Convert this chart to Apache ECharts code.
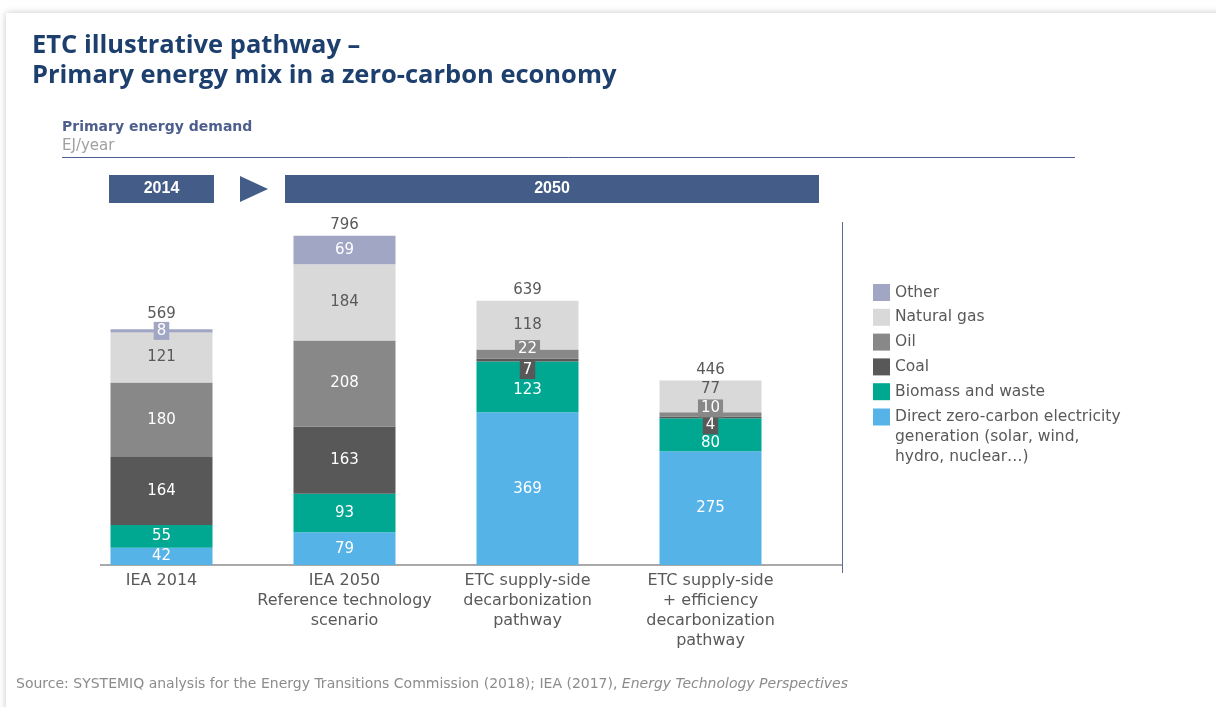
<!DOCTYPE html>
<html>
<head>
<meta charset="utf-8">
<script src="https://cdn.jsdelivr.net/npm/echarts@6/dist/echarts.min.js"></script>
<style>
html,body{margin:0;padding:0;background:#fff;}
#chart{width:1216px;height:707px;}
</style>
</head>
<body>
<div id="chart"></div>
<script>
// ---- data ----
const categories = ['IEA 2014', 'IEA 2050\nReference technology\nscenario', 'ETC supply-side\ndecarbonization\npathway', 'ETC supply-side\n+ efficiency\ndecarbonization\npathway'];
const zeroCarbon = [42, 79, 369, 275];
const biomass = [55, 93, 123, 80];
const coal = [164, 163, 7, 4];
const oil = [180, 208, 22, 10];
const gas = [121, 184, 118, 77];
const other = [8, 69, 0, 0];
const totals = [569, 796, 639, 446];
const periodLabels = ['2014', '2050'];
const seriesNames = ['Other', 'Natural gas', 'Oil', 'Coal', 'Biomass and waste', 'Direct zero-carbon electricity generation (solar, wind, hydro, nuclear…)'];

// ---- styles ----
const FONT = 'DejaVu Sans';
const colors = {
  other: '#A1A6C4', gas: '#D9D9D9', oil: '#888888', coal: '#585858', bio: '#00A892', zc: '#56B3E8'
};
const labelOffsets = {
  zc: [0, 0, 0, 0], bio: [0, 0, 3, 8], coal: [0, 0, 10, 8], oil: [0, 0, -5, -6], gas: [0, 0, 0, -7], other: [0, 0, 0, 0]
};

function mkSeries(name, key, data, textColor) {
  return {
    name: name,
    type: 'bar',
    stack: 'total',
    barWidth: 102,
    itemStyle: { color: colors[key] },
    label: { show: true, position: 'inside', color: textColor, fontFamily: FONT, fontSize: 15 },
    data: data.map(function (v, i) {
      const item = { value: v, label: { offset: [0, labelOffsets[key][i]] } };
      if (v === 0) item.label.show = false;
      else if (v < 30) {
        item.label.backgroundColor = colors[key];
        item.label.color = '#fff';
        item.label.padding = [2, 3, 1, 3];
      }
      return item;
    })
  };
}

const chart = echarts.init(document.getElementById('chart'));
const option = {
  backgroundColor: '#ffffff',
  animation: false,
  title: {
    text: 'ETC illustrative pathway –\nPrimary energy mix in a zero-carbon economy',
    left: 27, top: 26,
    textStyle: { fontFamily: 'Open Sans', fontWeight: 'bold', fontSize: 25.5, lineHeight: 30, color: '#1D3F6E' }
  },
  grid: { left: 70, width: 732, top: 201, bottom: 142 },
  xAxis: {
    type: 'category',
    data: categories,
    axisLine: { show: false },
    axisTick: { show: false },
    axisLabel: { interval: 0, margin: 6, color: '#595959', fontFamily: FONT, fontSize: 16, lineHeight: 20 }
  },
  yAxis: { type: 'value', min: 0, max: 880, show: false },
  legend: [
    {
      data: seriesNames.slice(0, 5),
      orient: 'vertical', left: 873, top: 284, padding: 0,
      itemWidth: 17, itemHeight: 17, itemGap: 7.8, icon: 'rect',
      selectedMode: false,
      textStyle: { color: '#595959', fontFamily: FONT, fontSize: 15.5 }
    },
    {
      data: [seriesNames[5]],
      orient: 'vertical', left: 873, top: 367, padding: 0,
      itemWidth: 17, itemHeight: 17, icon: 'rect',
      selectedMode: false,
      formatter: function () { return '\n\nDirect zero-carbon electricity\ngeneration (solar, wind,\nhydro, nuclear…)'; },
      textStyle: { color: '#595959', fontFamily: FONT, fontSize: 15.5, lineHeight: 20 }
    }
  ],
  series: [
    mkSeries(seriesNames[5], 'zc', zeroCarbon, '#fff'),
    mkSeries(seriesNames[4], 'bio', biomass, '#fff'),
    mkSeries(seriesNames[3], 'coal', coal, '#fff'),
    mkSeries(seriesNames[2], 'oil', oil, '#fff'),
    mkSeries(seriesNames[1], 'gas', gas, '#595959'),
    mkSeries(seriesNames[0], 'other', other, '#fff'),
    {
      name: 'Total', type: 'scatter', symbolSize: 1, itemStyle: { color: 'rgba(0,0,0,0)' },
      label: { show: true, position: 'top', distance: 2.5, color: '#595959', opacity: 1, fontFamily: FONT, fontSize: 15,
        formatter: function (p) { return p.value; } },
      data: totals.map(function (v, i) { return i === 0 ? { value: v, label: { offset: [0, -5] } } : v; })
    }
  ],
  graphic: [
    { type: 'rect', z: -10, shape: { x: 6, y: 13, width: 1240, height: 720 },
      style: { fill: '#fff', shadowBlur: 7, shadowColor: 'rgba(0,0,0,0.22)' } },
    { type: 'text', left: 62, top: 120, style: { text: 'Primary energy demand', fill: '#4D5F8C', font: 'bold 14px "DejaVu Sans"' } },
    { type: 'text', left: 62, top: 139, style: { text: 'EJ/year', fill: '#A0A0A0', font: '15px "DejaVu Sans"' } },
    { type: 'line', shape: { x1: 62, y1: 157.5, x2: 1075, y2: 157.5 }, style: { stroke: '#4D5F8C', lineWidth: 1 } },
    { type: 'rect', shape: { x: 109, y: 175, width: 105, height: 28 }, style: { fill: '#435C88' } },
    { type: 'polygon', shape: { points: [[240, 176], [268, 189], [240, 202]] }, style: { fill: '#435C88' } },
    { type: 'rect', shape: { x: 285, y: 175, width: 534, height: 28 }, style: { fill: '#435C88' } },
    { type: 'text', x: 161.5, y: 189, style: { text: periodLabels[0], fill: '#fff', font: 'bold 16px "Liberation Sans"', align: 'center', verticalAlign: 'middle' } },
    { type: 'text', x: 552, y: 189, style: { text: periodLabels[1], fill: '#fff', font: 'bold 16px "Liberation Sans"', align: 'center', verticalAlign: 'middle' } },
    { type: 'line', shape: { x1: 100, y1: 565, x2: 842, y2: 565 }, style: { stroke: '#8C8C8C', lineWidth: 1.5 } },
    { type: 'line', shape: { x1: 842.5, y1: 222, x2: 842.5, y2: 573 }, style: { stroke: '#5A6A90', lineWidth: 1 } },
    { type: 'text', left: 16, top: 677, style: {
      text: '{a|Source: SYSTEMIQ analysis for the Energy Transitions Commission (2018); IEA (2017), }{b|Energy Technology Perspectives}',
      rich: {
        a: { fill: '#8C8C8C', fontFamily: FONT, fontSize: 14 },
        b: { fill: '#8C8C8C', fontFamily: FONT, fontSize: 14, fontStyle: 'italic' }
      } } }
  ]
};
chart.setOption(option);
</script>
</body>
</html>
